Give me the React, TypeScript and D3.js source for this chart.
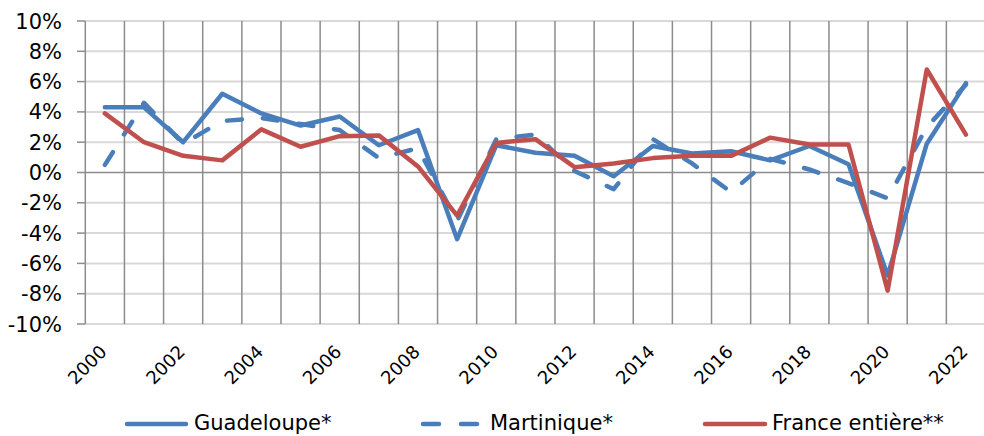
import React from "react";
import * as d3 from "d3";

const years = d3.range(2000, 2023).map(String);
const yTicks = [-10, -8, -6, -4, -2, 0, 2, 4, 6, 8, 10];
const guadeloupe = [4.3, 4.3, 2.0, 5.2, 3.9, 3.1, 3.7, 1.8, 2.8, -4.4, 1.8, 1.3, 1.1, -0.25, 1.75, 1.25, 1.4, 0.8, 1.75, 0.55, -6.8, 1.9, 5.9];
const martinique = [0.5, 4.6, 1.9, 3.4, 3.6, 3.2, 2.8, 0.95, 1.6, -3.2, 2.2, 2.5, 0.1, -1.1, 2.2, 0.6, -1.3, 0.9, 0.2, -0.7, -1.7, 3.0, 5.8];
const france = [3.9, 2.0, 1.1, 0.8, 2.85, 1.7, 2.4, 2.45, 0.4, -2.85, 1.95, 2.2, 0.35, 0.6, 0.95, 1.1, 1.1, 2.3, 1.85, 1.85, -7.8, 6.8, 2.5];
const seriesNames = ["Guadeloupe*", "Martinique*", "France entière**"];

const BLUE = "#4a7ebb";
const RED = "#c0504d";
const FONT = "'DejaVu Sans', Verdana, sans-serif";

export default function App() {
  const W = 984, H = 436;
  const left = 85.3, right = 985.5, top = 21, bottom = 324;
  const x = d3.scaleBand<string>().domain(years).range([left, right]);
  const y = d3.scaleLinear().domain([-10, 10]).range([bottom, top]);
  const bw = x.bandwidth();
  const cx = (i: number) => (x(years[i]) as number) + bw / 2;
  const line = d3.line<number>().x((_, i) => cx(i)).y((d) => y(d));

  const series = [
    { name: seriesNames[0], data: guadeloupe, color: BLUE, dash: undefined as string | undefined },
    { name: seriesNames[1], data: martinique, color: BLUE, dash: "15 21" },
    { name: seriesNames[2], data: france, color: RED, dash: undefined },
  ];

  const vlines = years.map((yr) => x(yr) as number).concat([right]);

  const legend = [
    { x1: 125, x2: 188, tx: 194, s: series[0] },
    { x1: 421, x2: 479, tx: 490, s: series[1] },
    { x1: 703, x2: 767, tx: 772, s: series[2] },
  ];

  return (
    <svg width={W} height={H} style={{ position: "absolute", left: 0, top: 0, background: "#fff" }} fontFamily={FONT}>
      <rect x={0} y={0} width={W} height={H} fill="#fff" />
      {yTicks.filter((t) => t !== 0).map((t) => (
        <line key={"h" + t} x1={left} x2={right} y1={y(t)} y2={y(t)} stroke="#d9d9d9" strokeWidth={2} />
      ))}
      {vlines.map((vx, i) => (
        <line key={"v" + i} x1={vx} x2={vx} y1={top} y2={bottom} stroke="#8c8c8c" strokeWidth={1.5} />
      ))}
      <line x1={left} x2={right} y1={y(0)} y2={y(0)} stroke="#8c8c8c" strokeWidth={1.5} />
      {yTicks.map((t) => (
        <g key={"yt" + t}>
          <line x1={77} x2={left} y1={y(t)} y2={y(t)} stroke="#8c8c8c" strokeWidth={1.5} />
          <text x={62} y={y(t)} dy="0.36em" textAnchor="end" fontSize={21} fill="#000">
            {t + "%"}
          </text>
        </g>
      ))}
      {years.map((yr, i) =>
        i % 2 === 0 ? (
          <text key={"xl" + yr} transform={`translate(${cx(i) + 3},353) rotate(-45)`} textAnchor="end" fontSize={18} fill="#000">
            {yr}
          </text>
        ) : null
      )}
      {series.map((s) => (
        <path key={s.name} d={line(s.data) || ""} fill="none" stroke={s.color} strokeWidth={4.5}
          strokeDasharray={s.dash} strokeLinecap="round" strokeLinejoin="round" />
      ))}
      {legend.map((l) => (
        <g key={"lg" + l.s.name}>
          <line x1={l.x1 + 2} x2={l.x2 - 2} y1={424} y2={424} stroke={l.s.color} strokeWidth={4.5}
            strokeLinecap="round" strokeDasharray={l.s.dash ? "16 22" : undefined} />
          <text x={l.tx} y={430} fontSize={21} fill="#000">{l.s.name}</text>
        </g>
      ))}
    </svg>
  );
}
